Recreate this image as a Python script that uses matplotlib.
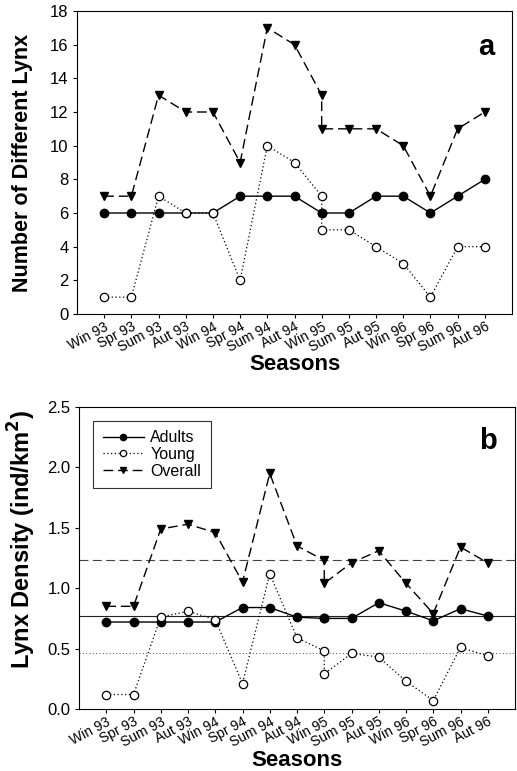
import matplotlib
matplotlib.use('Agg')
import matplotlib.pyplot as plt

plt.rcParams['font.family'] = ['Liberation Sans', 'DejaVu Sans']

# season labels (Spr 95 shares the Win 95 position)
seasons = ['Win 93', 'Spr 93', 'Sum 93', 'Aut 93', 'Win 94', 'Spr 94', 'Sum 94', 'Aut 94',
           'Win 95', 'Sum 95', 'Aut 95', 'Win 96', 'Spr 96', 'Sum 96', 'Aut 96']
x_pos = [0, 1, 2, 3, 4, 5, 6, 7, 8, 8, 9, 10, 11, 12, 13, 14]

# panel a: number of different lynx
count_adults = [6, 6, 6, 6, 6, 7, 7, 7, 6, 6, 6, 7, 7, 6, 7, 8]
count_young = [1, 1, 7, 6, 6, 2, 10, 9, 7, 5, 5, 4, 3, 1, 4, 4]
count_overall = [7, 7, 13, 12, 12, 9, 17, 16, 13, 11, 11, 11, 10, 7, 11, 12]

# panel b: lynx density
dens_adults = [0.72, 0.72, 0.72, 0.72, 0.72, 0.84, 0.84, 0.76, 0.75, 0.75, 0.75, 0.88, 0.81, 0.73, 0.83, 0.77]
dens_young = [0.12, 0.12, 0.76, 0.81, 0.74, 0.21, 1.12, 0.59, 0.48, 0.29, 0.46, 0.43, 0.23, 0.07, 0.51, 0.44]
dens_overall = [0.85, 0.85, 1.49, 1.53, 1.46, 1.05, 1.95, 1.35, 1.23, 1.04, 1.21, 1.31, 1.04, 0.79, 1.34, 1.21]
mean_adults = 0.77
mean_young = 0.46
mean_overall = 1.23

W, H = 517, 771
fig = plt.figure(figsize=(W / 100, H / 100), dpi=100)

# axes positions from the pixel boxes of the reference
ax_a = fig.add_axes([77 / W, 1 - 314 / H, (512 - 77) / W, (314 - 11) / H])
ax_b = fig.add_axes([79 / W, 1 - 709 / H, (515 - 79) / W, (709 - 407) / H])


def draw_series(ax, adults, young, overall):
    ax.plot(x_pos, overall, color='black', linestyle=(0, (7, 3.5)), linewidth=1.0,
            marker='v', markersize=6, markerfacecolor='black', zorder=3, label='Overall')
    ax.plot(x_pos, adults, color='black', linestyle='-', linewidth=1.0,
            marker='o', markersize=6, markerfacecolor='black', zorder=4, label='Adults')
    ax.plot(x_pos, young, color='black', linestyle=(0, (1, 2)), linewidth=0.9,
            marker='o', markersize=6, markerfacecolor='white', markeredgewidth=0.9,
            zorder=5, label='Young')


def style_axes(ax, label_y):
    ax.set_xlim(-1, 15)
    ax.set_xticks(range(len(seasons)))
    ax.set_xticklabels(seasons, rotation=28, ha='right', rotation_mode='anchor', fontsize=10)
    ax.tick_params(axis='y', labelsize=12, direction='out', length=3, width=0.8, pad=3)
    ax.tick_params(axis='x', direction='out', length=3, width=0.8, pad=1)
    for side in ax.spines.values():
        side.set_linewidth(0.8)
    ax.set_xlabel('Seasons', fontsize=16, fontweight='bold', va='center')
    ax.xaxis.set_label_coords(0.5, label_y)


draw_series(ax_a, count_adults, count_young, count_overall)
style_axes(ax_a, -0.168)
ax_a.set_ylim(0, 18)
ax_a.set_yticks(range(0, 19, 2))
ax_a.set_ylabel('Number of Different Lynx', fontsize=15.5, fontweight='bold')
ax_a.yaxis.set_label_coords(-0.101, 0.5)
ax_a.text(0.94, 0.88, 'a', transform=ax_a.transAxes, fontsize=21, fontweight='bold',
          ha='center', va='center')

# mean lines in panel b
ax_b.axhline(mean_overall, color='#444444', linestyle=(0, (8, 4)), linewidth=0.8, zorder=1)
ax_b.axhline(mean_adults, color='#222222', linestyle='-', linewidth=0.8, zorder=1)
ax_b.axhline(mean_young, color='#666666', linestyle=(0, (1, 2)), linewidth=0.8, zorder=1)

draw_series(ax_b, dens_adults, dens_young, dens_overall)
style_axes(ax_b, -0.169)
ax_b.set_ylim(0, 2.5)
ax_b.set_yticks([0.0, 0.5, 1.0, 1.5, 2.0, 2.5])
ax_b.set_yticklabels(['0.0', '0.5', '1.0', '1.5', '2.0', '2.5'])
ax_b.set_ylabel('Lynx Density (ind/km$^\\mathbf{2}$)', fontsize=17, fontweight='bold')
ax_b.yaxis.set_label_coords(-0.094, 0.56)
ax_b.text(0.938, 0.887, 'b', transform=ax_b.transAxes, fontsize=21, fontweight='bold',
          ha='center', va='center')

handles, labels = ax_b.get_legend_handles_labels()
order = [labels.index('Adults'), labels.index('Young'), labels.index('Overall')]
leg = ax_b.legend([handles[i] for i in order], [labels[i] for i in order],
                  loc='upper left', bbox_to_anchor=(0.032, 0.954), borderaxespad=0,
                  fontsize=11.5, frameon=True, fancybox=False, edgecolor='black',
                  handlelength=2.6, handletextpad=0.4, labelspacing=0.1, borderpad=0.6,
                  markerscale=0.75)
leg.get_frame().set_linewidth(0.8)

fig.savefig('out.png', dpi=100)
